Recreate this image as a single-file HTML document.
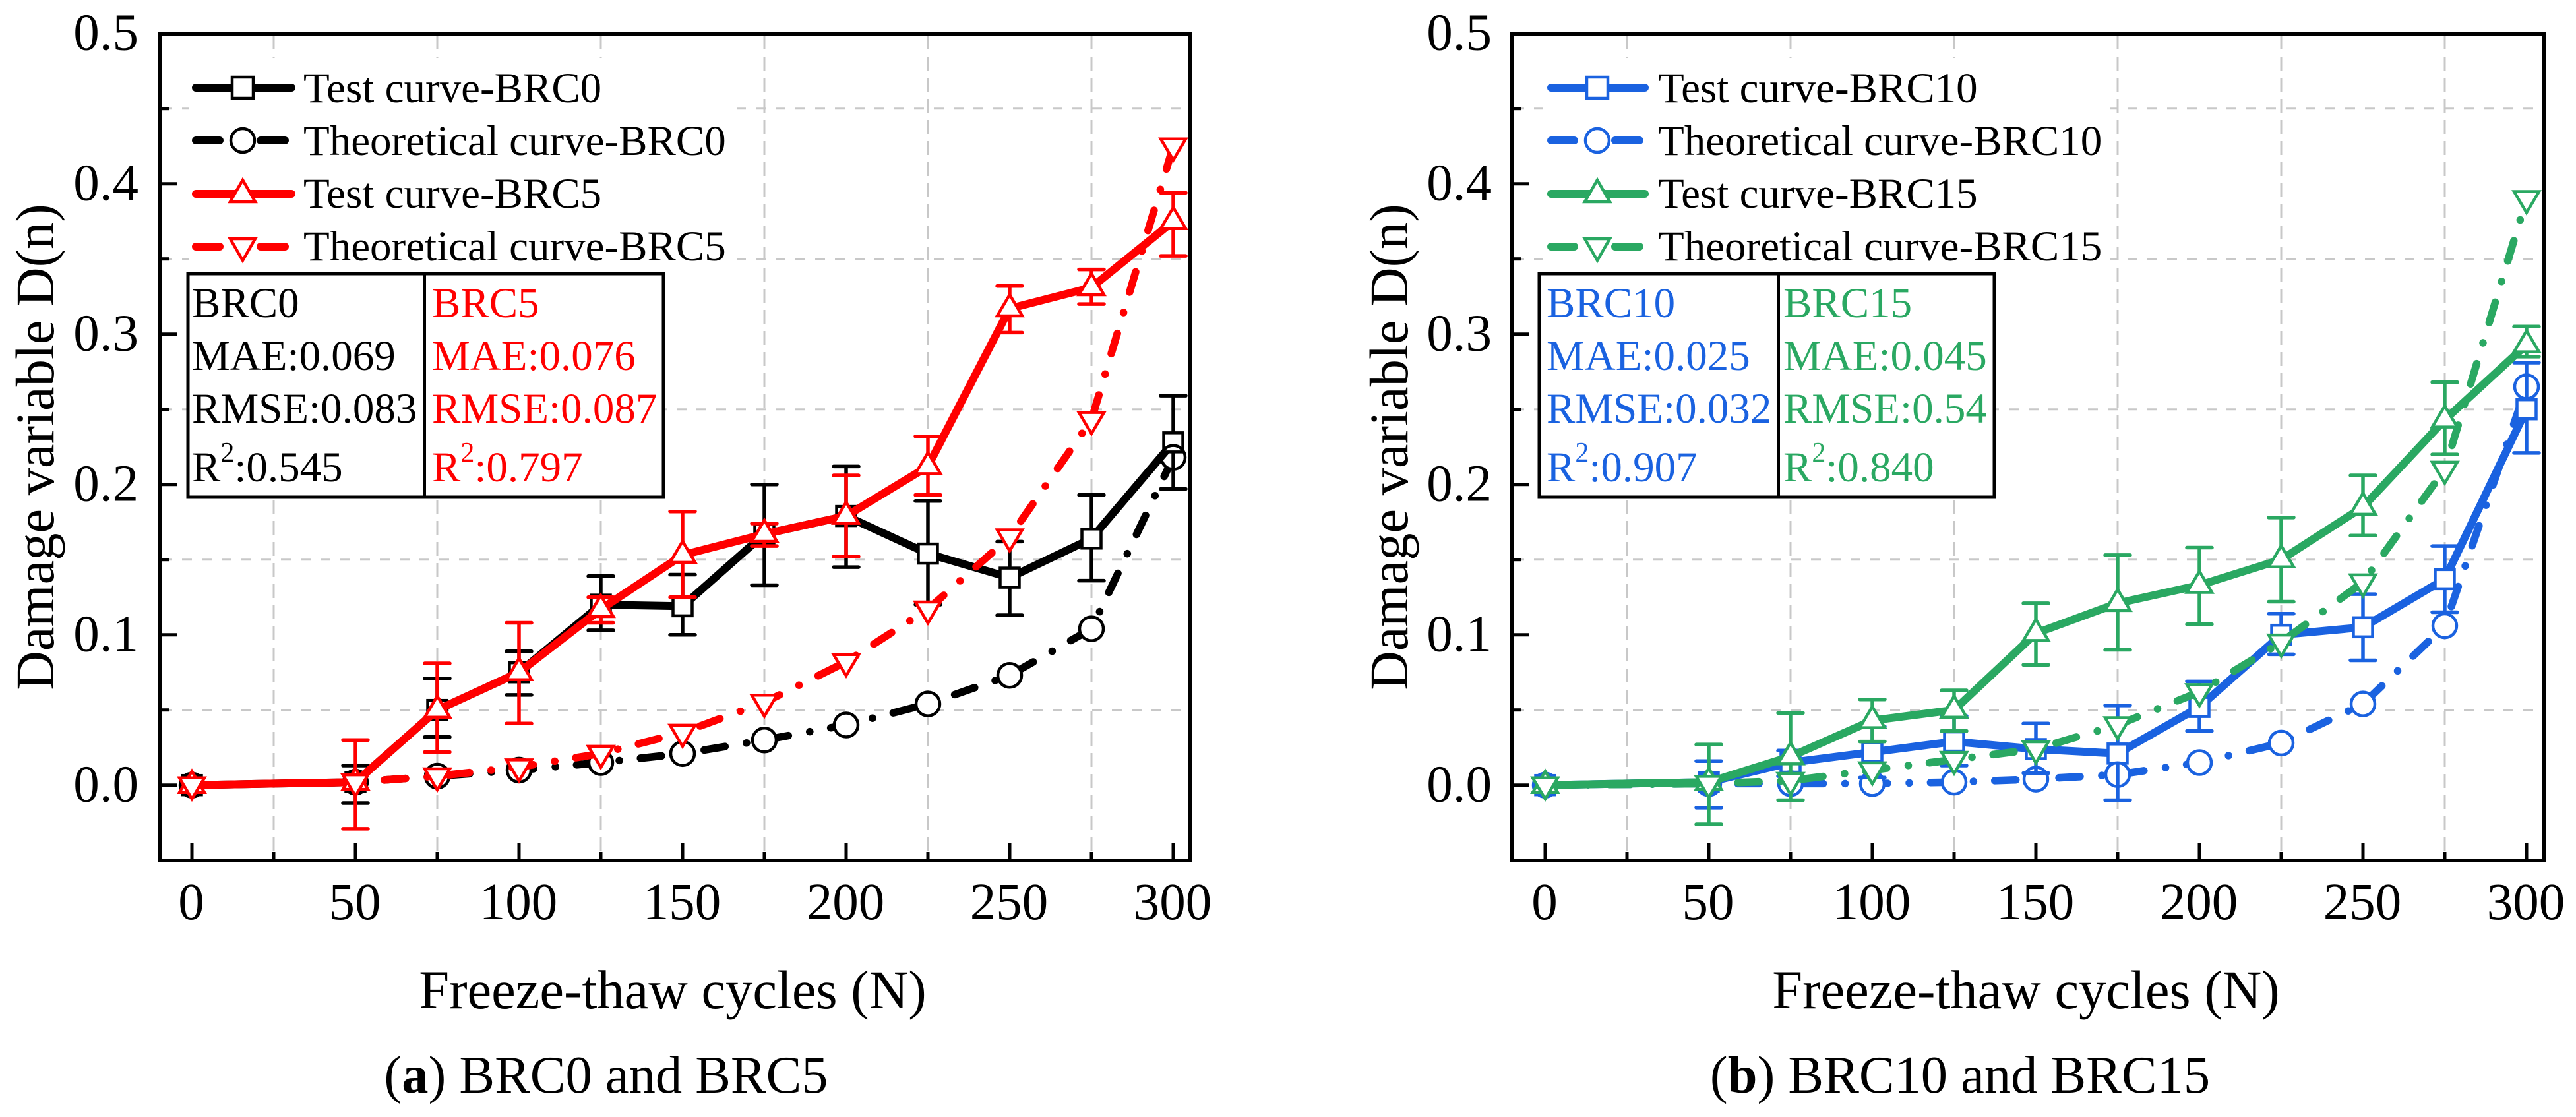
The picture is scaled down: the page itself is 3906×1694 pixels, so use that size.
<!DOCTYPE html>
<html lang="en">
<head>
<meta charset="utf-8">
<title>Damage variable vs freeze-thaw cycles</title>
<style>
html,body{margin:0;padding:0;background:#fff;}
svg{display:block;font-family:"Liberation Serif",serif;}
text{fill:#000;}
.lg{font-size:65px;}
.tb{font-size:65px;}
.sup{font-size:42px;}
.tick{font-size:79px;}
.title{font-size:82.5px;}
.cap{font-size:80.5px;}
</style>
</head>
<body>
<svg id="chart" xmlns="http://www.w3.org/2000/svg" width="3906" height="1694" viewBox="0 0 3906 1694">
  <rect x="0" y="0" width="3906" height="1694" fill="#fff"/>

  <g id="panel-a">
    <g id="grid-a"></g>
    <rect x="287" y="88" width="831" height="330" fill="#fff"/>
    <rect x="285" y="415" width="721" height="339" fill="#fff"/>
    <g id="series-a"></g>
    <rect x="243" y="51" width="1561" height="1254" fill="none" stroke="#000" stroke-width="6"/>
    <g id="ticks-a"></g>
    <g>
      <g>
        <line x1="297" y1="133" x2="442" y2="133" stroke="#000" stroke-width="12" stroke-linecap="round"/>
        <rect x="352" y="117" width="32" height="32" fill="#fff" stroke="#000" stroke-width="4.5"/>
        <text class="lg" x="460" y="155">Test curve-BRC0</text>
      </g>
      <g>
        <line x1="297" y1="213" x2="333" y2="213" stroke="#000" stroke-width="12" stroke-linecap="round"/>
        <line x1="395" y1="213" x2="432" y2="213" stroke="#000" stroke-width="12" stroke-linecap="round"/>
        <circle cx="368" cy="213" r="18" fill="#fff" stroke="#000" stroke-width="4.5"/>
        <text class="lg" x="460" y="235">Theoretical curve-BRC0</text>
      </g>
      <g>
        <line x1="297" y1="294" x2="442" y2="294" stroke="#f00" stroke-width="12" stroke-linecap="round"/>
        <path d="M368 273 L387 306 L349 306 Z" fill="#fff" stroke="#f00" stroke-width="4.5"/>
        <text class="lg" x="460" y="315">Test curve-BRC5</text>
      </g>
      <g>
        <line x1="297" y1="374" x2="333" y2="374" stroke="#f00" stroke-width="12" stroke-linecap="round"/>
        <line x1="395" y1="374" x2="432" y2="374" stroke="#f00" stroke-width="12" stroke-linecap="round"/>
        <path d="M368 395 L387 362 L349 362 Z" fill="#fff" stroke="#f00" stroke-width="4.5"/>
        <text class="lg" x="460" y="395">Theoretical curve-BRC5</text>
      </g>
    </g>
    <g>
      <rect x="285" y="415" width="721" height="339" fill="none" stroke="#000" stroke-width="5"/>
      <line x1="644" y1="415" x2="644" y2="754" stroke="#000" stroke-width="4"/>
      <text class="tb" x="291" y="481">BRC0</text>
      <text class="tb" x="291" y="561">MAE:0.069</text>
      <text class="tb" x="291" y="641">RMSE:0.083</text>
      <text class="tb" x="291" y="730">R<tspan class="sup" dy="-30">2</tspan><tspan dy="30">:0.545</tspan></text>
      <text class="tb" x="655" y="481" style="fill:#f00">BRC5</text>
      <text class="tb" x="655" y="561" style="fill:#f00">MAE:0.076</text>
      <text class="tb" x="655" y="641" style="fill:#f00">RMSE:0.087</text>
      <text class="tb" x="655" y="730" style="fill:#f00">R<tspan class="sup" dy="-30">2</tspan><tspan dy="30">:0.797</tspan></text>
    </g>
    <text class="title" text-anchor="middle" transform="translate(81,678) rotate(-90)">Damage variable D(n)</text>
    <text class="title" text-anchor="middle" x="1020" y="1529">Freeze-thaw cycles (N)</text>
    <text class="cap" text-anchor="middle" x="919" y="1657">(<tspan font-weight="bold">a</tspan>) BRC0 and BRC5</text>
  </g>

  <g id="panel-b">
    <g id="grid-b"></g>
    <rect x="2340" y="88" width="860" height="330" fill="#fff"/>
    <rect x="2334" y="415" width="690" height="339" fill="#fff"/>
    <g id="series-b"></g>
    <rect x="2293" y="51" width="1564" height="1254" fill="none" stroke="#000" stroke-width="6"/>
    <g id="ticks-b"></g>
    <g>
      <g>
        <line x1="2352" y1="133" x2="2494" y2="133" stroke="#1a62e0" stroke-width="12" stroke-linecap="round"/>
        <rect x="2406" y="117" width="32" height="32" fill="#fff" stroke="#1a62e0" stroke-width="4.5"/>
        <text class="lg" x="2514" y="155">Test curve-BRC10</text>
      </g>
      <g>
        <line x1="2352" y1="213" x2="2387" y2="213" stroke="#1a62e0" stroke-width="12" stroke-linecap="round"/>
        <line x1="2449" y1="213" x2="2486" y2="213" stroke="#1a62e0" stroke-width="12" stroke-linecap="round"/>
        <circle cx="2422" cy="213" r="18" fill="#fff" stroke="#1a62e0" stroke-width="4.5"/>
        <text class="lg" x="2514" y="235">Theoretical curve-BRC10</text>
      </g>
      <g>
        <line x1="2352" y1="294" x2="2494" y2="294" stroke="#2aa862" stroke-width="12" stroke-linecap="round"/>
        <path d="M2422 273 L2441 306 L2403 306 Z" fill="#fff" stroke="#2aa862" stroke-width="4.5"/>
        <text class="lg" x="2514" y="315">Test curve-BRC15</text>
      </g>
      <g>
        <line x1="2352" y1="374" x2="2387" y2="374" stroke="#2aa862" stroke-width="12" stroke-linecap="round"/>
        <line x1="2449" y1="374" x2="2486" y2="374" stroke="#2aa862" stroke-width="12" stroke-linecap="round"/>
        <path d="M2422 395 L2441 362 L2403 362 Z" fill="#fff" stroke="#2aa862" stroke-width="4.5"/>
        <text class="lg" x="2514" y="395">Theoretical curve-BRC15</text>
      </g>
    </g>
    <g>
      <rect x="2334" y="415" width="690" height="339" fill="none" stroke="#000" stroke-width="5"/>
      <line x1="2697" y1="415" x2="2697" y2="754" stroke="#000" stroke-width="4"/>
      <text class="tb" x="2345" y="481" style="fill:#1a62e0">BRC10</text>
      <text class="tb" x="2345" y="561" style="fill:#1a62e0">MAE:0.025</text>
      <text class="tb" x="2345" y="641" style="fill:#1a62e0">RMSE:0.032</text>
      <text class="tb" x="2345" y="730" style="fill:#1a62e0">R<tspan class="sup" dy="-30">2</tspan><tspan dy="30">:0.907</tspan></text>
      <text class="tb" x="2704" y="481" style="fill:#2aa862">BRC15</text>
      <text class="tb" x="2704" y="561" style="fill:#2aa862">MAE:0.045</text>
      <text class="tb" x="2704" y="641" style="fill:#2aa862">RMSE:0.54</text>
      <text class="tb" x="2704" y="730" style="fill:#2aa862">R<tspan class="sup" dy="-30">2</tspan><tspan dy="30">:0.840</tspan></text>
    </g>
    <text class="title" text-anchor="middle" transform="translate(2134,678) rotate(-90)">Damage variable D(n)</text>
    <text class="title" text-anchor="middle" x="3072" y="1529">Freeze-thaw cycles (N)</text>
    <text class="cap" text-anchor="middle" x="2972" y="1657">(<tspan font-weight="bold">b</tspan>) BRC10 and BRC15</text>
  </g>
</svg>
<script>
const cycles = [0, 50, 75, 100, 125, 150, 175, 200, 225, 250, 275, 300];
const xTickLabels = [0, 50, 100, 150, 200, 250, 300];
const xMinorTicks = [25, 75, 125, 175, 225, 275];
const yTickLabels = [0.0, 0.1, 0.2, 0.3, 0.4, 0.5];
const yMinorTicks = [0.05, 0.15, 0.25, 0.35, 0.45];

const testBRC0 = [0, 0.002, 0.05, 0.075, 0.12, 0.119, 0.167, 0.179, 0.154, 0.138, 0.164, 0.228];
const upperBRC0 = [0, 0.013, 0.071, 0.089, 0.139, 0.14, 0.2, 0.212, 0.189, 0.162, 0.193, 0.259];
const lowerBRC0 = [0, -0.012, 0.032, 0.06, 0.103, 0.1, 0.133, 0.145, 0.12, 0.113, 0.136, 0.197];
const theoBRC0 = [0, 0.002, 0.006, 0.01, 0.015, 0.021, 0.03, 0.04, 0.054, 0.073, 0.104, 0.218];

const testBRC5 = [0, 0.002, 0.05, 0.075, 0.117, 0.153, 0.167, 0.179, 0.212, 0.317, 0.331, 0.375];
const upperBRC5 = [0, 0.03, 0.081, 0.108, 0.125, 0.182, 0.174, 0.206, 0.232, 0.332, 0.343, 0.394];
const lowerBRC5 = [0, -0.029, 0.022, 0.041, 0.108, 0.125, 0.159, 0.152, 0.193, 0.301, 0.32, 0.352];
const theoBRC5 = [0, 0.002, 0.006, 0.012, 0.021, 0.035, 0.055, 0.082, 0.117, 0.165, 0.243, 0.425];

const testBRC10 = [0, 0.002, 0.015, 0.022, 0.029, 0.024, 0.021, 0.052, 0.1, 0.105, 0.137, 0.25];
const upperBRC10 = [0, 0.016, 0.023, 0.039, 0.046, 0.041, 0.053, 0.069, 0.114, 0.127, 0.159, 0.281];
const lowerBRC10 = [0, -0.015, 0.006, 0.005, 0.013, 0.008, -0.01, 0.036, 0.087, 0.083, 0.115, 0.221];
const theoBRC10 = [0, 0.001, 0.001, 0.001, 0.002, 0.004, 0.007, 0.015, 0.028, 0.054, 0.106, 0.265];

const testBRC15 = [0, 0.002, 0.019, 0.043, 0.05, 0.101, 0.121, 0.133, 0.15, 0.185, 0.243, 0.293];
const upperBRC15 = [0, 0.027, 0.048, 0.057, 0.063, 0.121, 0.153, 0.158, 0.178, 0.206, 0.268, 0.305];
const lowerBRC15 = [0, -0.026, -0.01, 0.029, 0.036, 0.08, 0.09, 0.107, 0.122, 0.166, 0.22, 0.285];
const theoBRC15 = [0, 0.001, 0.003, 0.01, 0.017, 0.024, 0.04, 0.062, 0.095, 0.135, 0.21, 0.39];

const SVGNS = 'http://www.w3.org/2000/svg';
const RED = '#ff0000', BLACK = '#000000', BLUE = '#1a62e0', GREEN = '#2aa862';
const PANEL_B_SHIFT = 2052;
const X0 = 291, X_PER_UNIT = 4.96, Y0 = 1190.7, Y_PER_UNIT = 2280;

function xAxis(v, shift) { return X0 + shift + v * X_PER_UNIT; }
function yAxis(v) { return Y0 - v * Y_PER_UNIT; }

function create(parent, tag, props) {
  const node = document.createElementNS(SVGNS, tag);
  for (const key in props) node.setAttribute(key, props[key]);
  parent.appendChild(node);
  return node;
}

function drawGrid(parent, shift, left, right) {
  xMinorTicks.forEach(function (v) {
    const gridX = create(parent, 'line', { x1: xAxis(v, shift), x2: xAxis(v, shift), y1: 54, y2: 1290, stroke: '#c8c8c8', 'stroke-width': 3, 'stroke-dasharray': '21 11' });
    
    
  });
  yMinorTicks.forEach(function (v) {
    const gridY = create(parent, 'line', { x1: left + 3, x2: right - 3, y1: yAxis(v), y2: yAxis(v), stroke: '#c8c8c8', 'stroke-width': 3, 'stroke-dasharray': '15 15' });
    
    
  });
}

function drawTicks(parent, shift, left) {
  const bottom = 1305;
  xTickLabels.forEach(function (v) {
    const tick = create(parent, 'line', { x1: xAxis(v, shift), x2: xAxis(v, shift), y1: bottom, y2: bottom - 26, stroke: '#000', 'stroke-width': 5 });
    
    
    const label = create(parent, 'text', { x: xAxis(v, shift) - 1, y: 1394, 'text-anchor': 'middle', class: 'tick' });
    
    
    label.textContent = String(v);
  });
  xMinorTicks.forEach(function (v) {
    const minor = create(parent, 'line', { x1: xAxis(v, shift), x2: xAxis(v, shift), y1: bottom, y2: bottom - 13, stroke: '#000', 'stroke-width': 5 });
    
    
  });
  yTickLabels.forEach(function (v) {
    const tick = create(parent, 'line', { x1: left, x2: left + 25, y1: yAxis(v), y2: yAxis(v), stroke: '#000', 'stroke-width': 5 });
    
    
    const label = create(parent, 'text', { x: 210 + shift, y: yAxis(v) + 25, 'text-anchor': 'end', class: 'tick' });
    
    
    label.textContent = v.toFixed(1);
  });
  yMinorTicks.forEach(function (v) {
    const minor = create(parent, 'line', { x1: left, x2: left + 14, y1: yAxis(v), y2: yAxis(v), stroke: '#000', 'stroke-width': 5 });
    
    
  });
}

function polyPoints(values, shift) {
  return values.map(function (v, i) { return xAxis(cycles[i], shift) + ',' + yAxis(v); }).join(' ');
}

function drawMarker(parent, kind, cx, cy, color) {
  let node;
  if (kind === 'square') {
    node = create(parent, 'rect', { x: cx - 14.5, y: cy - 14.5, width: 29, height: 29, fill: '#fff', stroke: color, 'stroke-width': 4.5 });
  } else if (kind === 'circle') {
    node = create(parent, 'circle', { cx: cx, cy: cy, r: 18, fill: 'none', stroke: color, 'stroke-width': 4.5 });
  } else if (kind === 'up') {
    node = create(parent, 'path', { d: 'M' + cx + ' ' + (cy - 21) + ' L' + (cx + 19) + ' ' + (cy + 11) + ' L' + (cx - 19) + ' ' + (cy + 11) + ' Z', fill: '#fff', stroke: color, 'stroke-width': 4.5 });
  } else {
    node = create(parent, 'path', { d: 'M' + cx + ' ' + (cy + 21) + ' L' + (cx + 19) + ' ' + (cy - 11) + ' L' + (cx - 19) + ' ' + (cy - 11) + ' Z', fill: '#fff', stroke: color, 'stroke-width': 4.5 });
  }
  
  
}

function drawSeries(parent, shift, color, test, upper, lower, theo, testKind, theoKind) {
  const theoLine = create(parent, 'polyline', { points: polyPoints(theo, shift), fill: 'none', stroke: color, 'stroke-width': 11.5, 'stroke-linecap': 'round', 'stroke-linejoin': 'round', 'stroke-dasharray': '32 33 0.1 32.3' });
  
  
  if (theoKind === 'circle') {
    theo.forEach(function (v, i) {
      const disc = create(parent, 'circle', { cx: xAxis(cycles[i], shift), cy: yAxis(v), r: 18, fill: '#fff' });
      
      
    });
  }
  test.forEach(function (v, i) {
    if (upper[i] === lower[i]) return;
    const cx = xAxis(cycles[i], shift);
    const stem = create(parent, 'line', { x1: cx, x2: cx, y1: yAxis(upper[i]), y2: yAxis(lower[i]), stroke: color, 'stroke-width': 5.5 });
    
    
    const capTop = create(parent, 'line', { x1: cx - 19, x2: cx + 19, y1: yAxis(upper[i]), y2: yAxis(upper[i]), stroke: color, 'stroke-width': 5.5, 'stroke-linecap': 'round' });
    
    
    const capBottom = create(parent, 'line', { x1: cx - 19, x2: cx + 19, y1: yAxis(lower[i]), y2: yAxis(lower[i]), stroke: color, 'stroke-width': 5.5, 'stroke-linecap': 'round' });
    
    
  });
  const testLine = create(parent, 'polyline', { points: polyPoints(test, shift), fill: 'none', stroke: color, 'stroke-width': 12, 'stroke-linejoin': 'round' });
  
  
  test.forEach(function (v, i) { drawMarker(parent, testKind, xAxis(cycles[i], shift), yAxis(v), color); });
  theo.forEach(function (v, i) { drawMarker(parent, theoKind, xAxis(cycles[i], shift), yAxis(v), color); });
}

drawGrid(document.getElementById('grid-a'), 0, 243, 1804);
drawGrid(document.getElementById('grid-b'), PANEL_B_SHIFT, 2293, 3857);

const seriesA = document.getElementById('series-a');
drawSeries(seriesA, 0, BLACK, testBRC0, upperBRC0, lowerBRC0, theoBRC0, 'square', 'circle');
drawSeries(seriesA, 0, RED, testBRC5, upperBRC5, lowerBRC5, theoBRC5, 'up', 'down');

const seriesB = document.getElementById('series-b');
drawSeries(seriesB, PANEL_B_SHIFT, BLUE, testBRC10, upperBRC10, lowerBRC10, theoBRC10, 'square', 'circle');
drawSeries(seriesB, PANEL_B_SHIFT, GREEN, testBRC15, upperBRC15, lowerBRC15, theoBRC15, 'up', 'down');

drawTicks(document.getElementById('ticks-a'), 0, 243);
drawTicks(document.getElementById('ticks-b'), PANEL_B_SHIFT, 2293);
</script>
</body>
</html>
